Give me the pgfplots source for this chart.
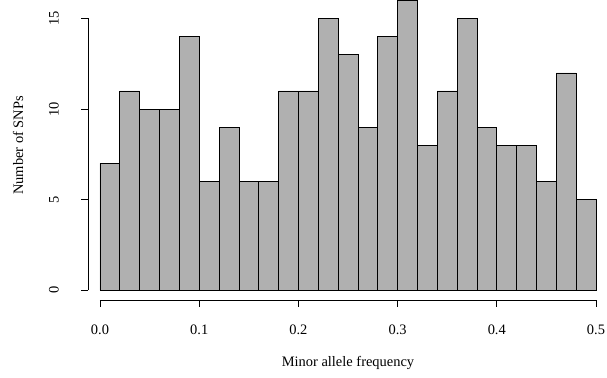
\documentclass[border=0pt]{standalone}
\usepackage{pgfplots}
\pgfplotsset{compat=1.18}
\usepackage{fontspec}
\setmainfont{Liberation Serif}
\definecolor{bargray}{RGB}{176,176,176}
\tikzset{lab/.style={font=\fontsize{14.5}{16}\selectfont, inner sep=0pt, anchor=center}}
\begin{document}
\begin{tikzpicture}[x=1bp,y=1bp]
\begin{axis}[
  anchor=origin, at={(0bp,0bp)},
  scale only axis, width=496bp, height=290bp,
  xmin=0, xmax=0.5, ymin=0, ymax=16,
  hide axis, clip=false,
]
\addplot[ybar interval, fill=bargray, draw=black, line width=0.7pt] coordinates {
(0.00,7) (0.02,11) (0.04,10) (0.06,10) (0.08,14) (0.10,6) (0.12,9) (0.14,6) (0.16,6) (0.18,11)
(0.20,11) (0.22,15) (0.24,13) (0.26,9) (0.28,14) (0.30,16) (0.32,8) (0.34,11) (0.36,15) (0.38,9)
(0.40,8) (0.42,8) (0.44,6) (0.46,12) (0.48,5) (0.50,5)
};
% x axis (R style, detached)
\draw[line width=0.7pt] ([yshift=-10bp]axis cs:0,0) -- ([yshift=-10bp]axis cs:0.5,0);
\pgfplotsinvokeforeach{0,0.1,0.2,0.3,0.4,0.5}{
  \draw[line width=0.7pt] ([yshift=-10bp]axis cs:#1,0) -- ([yshift=-17bp]axis cs:#1,0);
}
\node[lab] at ([yshift=-39bp]axis cs:0,0) {0.0};
\node[lab] at ([yshift=-39bp]axis cs:0.1,0) {0.1};
\node[lab] at ([yshift=-39bp]axis cs:0.2,0) {0.2};
\node[lab] at ([yshift=-39bp]axis cs:0.3,0) {0.3};
\node[lab] at ([yshift=-39bp]axis cs:0.4,0) {0.4};
\node[lab] at ([yshift=-39bp]axis cs:0.5,0) {0.5};
% y axis
\draw[line width=0.7pt] ([xshift=-12bp]axis cs:0,0) -- ([xshift=-12bp]axis cs:0,15);
\pgfplotsinvokeforeach{0,5,10,15}{
  \draw[line width=0.7pt] ([xshift=-12bp]axis cs:0,#1) -- ([xshift=-19bp]axis cs:0,#1);
  \node[lab,rotate=90] at ([xshift=-46bp]axis cs:0,#1) {#1};
}
\node[lab] at ([yshift=-73bp]axis cs:0.25,0) {Minor allele frequency};
\node[lab,rotate=90] at ([xshift=-82bp]axis cs:0,8) {Number of SNPs};
\end{axis}
\useasboundingbox (-100bp,-87bp) rectangle (507bp,290bp);
\end{tikzpicture}
\end{document}
